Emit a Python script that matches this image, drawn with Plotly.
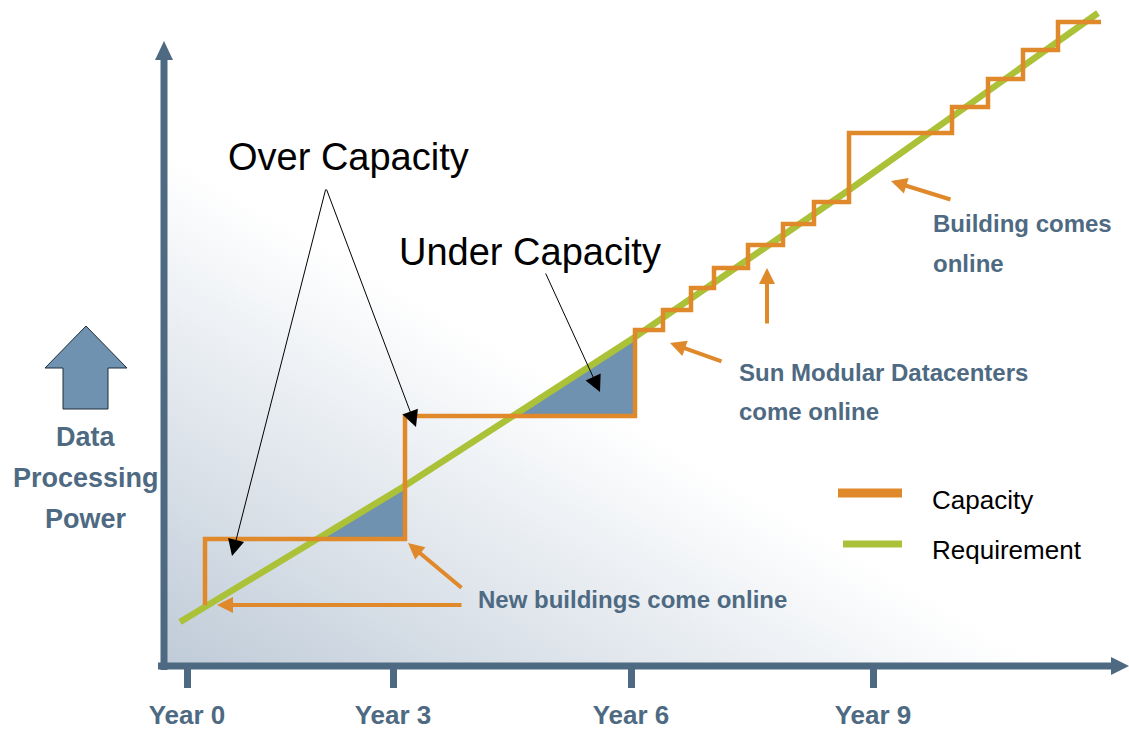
import base64
import plotly.graph_objects as go

# chart units: x = time (0 at the vertical axis), y = processing power (0 at the time axis)
cap_x = [42, 242, 472, 500, 528, 551, 585, 620, 651, 686, 789, 825, 860, 895, 938]
cap_y = [61, 127, 250, 336, 356, 378, 398, 421, 442, 464, 533, 559, 587, 616, 644]

req_x = [17, 240, 472, 686, 935]
req_y = [44, 179, 329, 476, 653]

under1_x = [154, 242, 242]
under1_y = [128, 128, 180]
under2_x = [352, 472, 472]
under2_y = [250, 250, 329]

year_ticks = [24, 230, 468, 710]
year_labels = ["Year 0", "Year 3", "Year 6", "Year 9"]

# arrows: (tip x, tip y, tail x, tail y)
orange_arrows = [
    (54, 61, 300, 61),
    (245, 123, 300, 77),
    (507, 323, 560, 304),
    (604, 398, 604, 341),
    (728, 485, 789, 466),
]
black_arrows = [
    (69, 110, 163, 478),
    (253, 239, 163, 478),
    (437, 274, 382, 394),
]

ORANGE = "#e0892b"
GREEN = "#abc137"
STEEL = "#6e92b0"
AXIS = "#4e6a82"
FONT = "Arial, Liberation Sans, sans-serif"

fig = go.Figure()

for tx, ty in [(under1_x, under1_y), (under2_x, under2_y)]:
    fig.add_trace(go.Scatter(x=tx, y=ty, fill="toself", fillcolor=STEEL, mode="lines",
                             line=dict(width=0), hoverinfo="skip"))

fig.add_trace(go.Scatter(x=req_x, y=req_y, mode="lines", name="Requirement",
                         line=dict(color=GREEN, width=6.5)))
fig.add_trace(go.Scatter(x=cap_x, y=cap_y, mode="lines", name="Capacity",
                         line=dict(color=ORANGE, width=4.5, shape="vh")))

# background gradient inside the axes
svg = ('<svg xmlns="http://www.w3.org/2000/svg" width="966" height="666" '
       'viewBox="0 0 966 666" preserveAspectRatio="none"><defs>'
       '<linearGradient id="g" x1="0" y1="1" x2="0.382" y2="0.5475">'
       '<stop offset="0" stop-color="#bfcbd8"/><stop offset="1" stop-color="#ffffff"/>'
       '</linearGradient></defs><rect width="966" height="666" fill="url(#g)"/></svg>')
src = "data:image/svg+xml;base64," + base64.b64encode(svg.encode()).decode()
fig.add_layout_image(dict(source=src, xref="x", yref="y", x=0, y=666, sizex=966, sizey=666,
                          sizing="stretch", xanchor="left", yanchor="top", layer="below"))

# axes with arrow heads
fig.add_shape(type="line", x0=1, x1=1, y0=-4, y1=608, line=dict(color=AXIS, width=7), layer="above")
fig.add_shape(type="line", x0=-5, x1=952, y0=0, y1=0, line=dict(color=AXIS, width=7), layer="above")
fig.add_shape(type="path", path="M -8,606 L 10,606 L 1,625 Z", fillcolor=AXIS,
              line=dict(width=0), layer="above")
fig.add_shape(type="path", path="M 948,-9 L 948,9 L 966,0 Z", fillcolor=AXIS,
              line=dict(width=0), layer="above")

# block arrow next to the y label
fig.add_shape(type="path",
              path="M -100,257 L -100,298 L -118,298 L -77,340 L -36,298 L -55,298 L -55,257 Z",
              fillcolor=STEEL, line=dict(color="#1f2d3a", width=1))

# legend drawn by hand
fig.add_shape(type="line", x0=675, x1=739, y0=173, y1=173, line=dict(color=ORANGE, width=9))
fig.add_shape(type="line", x0=680, x1=739, y0=122, y1=122, line=dict(color=GREEN, width=7))

big = dict(family=FONT, size=38, color="black")
bold = dict(family=FONT, size=24, color=AXIS, weight="bold")
notes = [
    ("Over Capacity", 185, 509, "center", big),
    ("Under Capacity", 367, 414, "center", big),
    ("Capacity", 767, 166, "left", dict(family=FONT, size=26, color="black")),
    ("Requirement", 767, 116, "left", dict(family=FONT, size=26, color="black")),
    ("New buildings come online", 313, 67, "left", bold),
    ("Sun Modular Datacenters", 574, 294, "left", bold),
    ("come online", 574, 255, "left", bold),
    ("Building comes", 768, 443, "left", bold),
    ("online", 768, 403, "left", bold),
    ("Data", -77, 229, "center", dict(family=FONT, size=27, color=AXIS, weight="bold")),
    ("Processing", -77, 188, "center", dict(family=FONT, size=27, color=AXIS, weight="bold")),
    ("Power", -77, 147, "center", dict(family=FONT, size=27, color=AXIS, weight="bold")),
]
for text, x, y, anchor, font in notes:
    fig.add_annotation(text=text, x=x, y=y, xanchor=anchor, yanchor="middle",
                       showarrow=False, font=font)

for tx, ty, sx, sy in orange_arrows:
    fig.add_annotation(x=tx, y=ty, ax=sx, ay=sy, axref="x", ayref="y", text="",
                       showarrow=True, arrowhead=2, arrowwidth=4, arrowsize=0.8,
                       arrowcolor=ORANGE, standoff=0)
for tx, ty, sx, sy in black_arrows:
    fig.add_annotation(x=tx, y=ty, ax=sx, ay=sy, axref="x", ayref="y", text="",
                       showarrow=True, arrowhead=2, arrowwidth=1, arrowsize=3.3,
                       arrowcolor="black", standoff=0)

fig.update_layout(
    width=1129, height=730, margin=dict(l=0, r=0, t=0, b=0, autoexpand=False),
    paper_bgcolor="white", plot_bgcolor="white", showlegend=False,
    xaxis=dict(range=[-163, 966], anchor="free", position=64 / 730, showgrid=False,
               zeroline=False, showline=False, ticks="outside", ticklen=21, tickwidth=7,
               tickcolor=AXIS, tickvals=year_ticks, ticktext=year_labels,
               tickfont=dict(family=FONT, size=26, color=AXIS, weight="bold"),
               ticklabelstandoff=5, automargin=False),
    yaxis=dict(range=[-64, 666], visible=False, automargin=False),
)

# the page's default body margin would shift the chart by 8px
fig.write_html("out.html", config={"displayModeBar": False},
               post_script="document.body.style.margin='0';")
